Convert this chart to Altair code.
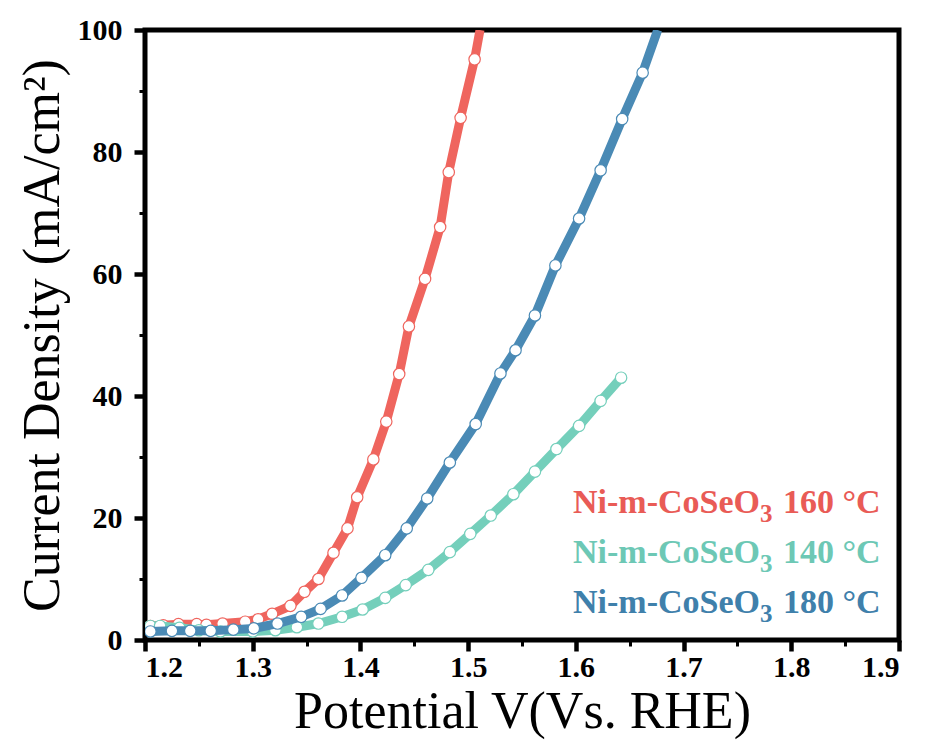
import altair as alt
import pandas as pd

# ---- data ----
red_v = [1.205, 1.217, 1.231, 1.248, 1.257, 1.272, 1.293, 1.305, 1.318, 1.335, 1.348, 1.361,
         1.375, 1.388, 1.397, 1.412, 1.424, 1.436, 1.445, 1.460, 1.474, 1.482, 1.493, 1.506]
red_j = [2.3, 2.4, 2.6, 2.6, 2.5, 2.7, 3.0, 3.4, 4.3, 5.6, 7.9, 10.0,
         14.3, 18.3, 23.4, 29.6, 35.8, 43.6, 51.4, 59.2, 67.7, 76.7, 85.6, 95.2]
red_end = (1.511, 100.0)

green_v = [1.205, 1.214, 1.232, 1.250, 1.270, 1.300, 1.321, 1.341, 1.361, 1.383, 1.402, 1.423,
           1.442, 1.463, 1.483, 1.502, 1.521, 1.542, 1.562, 1.582, 1.603, 1.623, 1.642]
green_j = [2.3, 2.3, 2.0, 1.6, 1.4, 1.4, 1.6, 2.1, 2.7, 3.8, 5.0, 6.9,
           9.0, 11.5, 14.4, 17.4, 20.4, 23.9, 27.6, 31.3, 35.1, 39.2, 43.0]

blue_v = [1.205, 1.225, 1.242, 1.261, 1.282, 1.301, 1.323, 1.345, 1.363, 1.383, 1.401, 1.423,
          1.443, 1.462, 1.483, 1.507, 1.530, 1.544, 1.562, 1.581, 1.603, 1.623, 1.643, 1.662]
blue_j = [1.4, 1.5, 1.5, 1.5, 1.7, 1.9, 2.7, 3.8, 5.1, 7.3, 10.2, 13.9,
          18.3, 23.2, 29.1, 35.4, 43.7, 47.5, 53.2, 61.4, 69.1, 77.0, 85.4, 93.0]
blue_end = (1.676, 100.0)

label_main = ["Ni-m-CoSeO", "Ni-m-CoSeO", "Ni-m-CoSeO"]
label_sub = ["3", "3", "3"]
label_temp = ["160 \u00b0C", "140 \u00b0C", "180 \u00b0C"]
line_colors = ["#EF655E", "#74CFBB", "#4A8AB5"]
label_colors = ["#E95B56", "#6DC8B5", "#3F80AB"]

x_major = [1.2, 1.3, 1.4, 1.5, 1.6, 1.7, 1.8, 1.9]
x_minor = [1.25, 1.35, 1.45, 1.55, 1.65, 1.75, 1.85]
y_major = [0, 20, 40, 60, 80, 100]
y_minor = [10, 30, 50, 70, 90]

FONT = "Liberation Serif"

x_scale = alt.Scale(domain=[1.2, 1.9], nice=False, zero=False)
y_scale = alt.Scale(domain=[0, 100], nice=False)


def frame(v, j, end=None):
    df = pd.DataFrame({"v": v, "j": j})
    if end is not None:
        df_line = pd.concat([df, pd.DataFrame({"v": [end[0]], "j": [end[1]]})], ignore_index=True)
    else:
        df_line = df
    return df, df_line


def layers(v, j, end, color):
    pts, ln = frame(v, j, end)
    line = alt.Chart(ln).mark_line(color=color, strokeWidth=9, clip=True).encode(
        x=alt.X("v:Q", scale=x_scale, axis=None),
        y=alt.Y("j:Q", scale=y_scale, axis=None),
    )
    dots = alt.Chart(pts).mark_point(
        shape="circle", fill="white", fillOpacity=1, stroke=color, strokeWidth=1.2,
        size=130, opacity=1, clip=True
    ).encode(
        x=alt.X("v:Q", scale=x_scale, axis=None),
        y=alt.Y("j:Q", scale=y_scale, axis=None),
    )
    return [line, dots]


axis_common = dict(
    domain=False, grid=False, tickColor="black", labelColor="black",
    labelFont=FONT, labelFontWeight="bold", labelFontSize=30,
    titleFont=FONT, titleFontWeight="normal", titleColor="black", titleFontSize=52,
)

base_df = pd.DataFrame({"v": red_v, "j": red_j})
major_axes = alt.Chart(base_df).mark_point(opacity=0).encode(
    x=alt.X("v:Q", scale=x_scale, axis=alt.Axis(
        orient="bottom", values=x_major, format=".1f", tickSize=11, tickWidth=4.5,
        labelPadding=1, title="Potential V(Vs. RHE)", titlePadding=4,
        **axis_common)),
    y=alt.Y("j:Q", scale=y_scale, axis=alt.Axis(
        orient="left", values=y_major, format="d", tickSize=11, tickWidth=4.5,
        labelPadding=12, title="Current Density (mA/cm\u00b2)", titlePadding=8,
        **axis_common)),
)
minor_axes = alt.Chart(base_df).mark_point(opacity=0).encode(
    x=alt.X("v:Q", scale=x_scale, axis=alt.Axis(
        orient="bottom", values=x_minor, labels=False, tickSize=6, tickWidth=3,
        domain=False, grid=False, tickColor="black", title=None)),
    y=alt.Y("j:Q", scale=y_scale, axis=alt.Axis(
        orient="left", values=y_minor, labels=False, tickSize=6, tickWidth=3,
        domain=False, grid=False, tickColor="black", title=None)),
)

legend_y = [483, 533, 583]
legend_layers = []
for main, sub, temp, col, yy in zip(label_main, label_sub, label_temp, label_colors, legend_y):
    legend_layers.append(
        alt.Chart(pd.DataFrame({"t": [main]})).mark_text(
            align="left", baseline="alphabetic", font=FONT, fontWeight="bold",
            fontSize=34, color=col
        ).encode(x=alt.value(428), y=alt.value(yy), text="t:N")
    )
    legend_layers.append(
        alt.Chart(pd.DataFrame({"t": [sub]})).mark_text(
            align="left", baseline="alphabetic", font=FONT, fontWeight="bold",
            fontSize=25, color=col
        ).encode(x=alt.value(615), y=alt.value(yy + 9), text="t:N")
    )
    legend_layers.append(
        alt.Chart(pd.DataFrame({"t": [temp]})).mark_text(
            align="left", baseline="alphabetic", font=FONT, fontWeight="bold",
            fontSize=34, color=col
        ).encode(x=alt.value(638), y=alt.value(yy), text="t:N")
    )

all_layers = [major_axes, minor_axes]
all_layers += layers(red_v, red_j, red_end, line_colors[0])
all_layers += layers(green_v, green_j, None, line_colors[1])
all_layers += layers(blue_v, blue_j, blue_end, line_colors[2])
all_layers += legend_layers

chart = alt.layer(*all_layers).resolve_axis(x="independent", y="independent").properties(
    width=754, height=610,
    background="white",
    autosize=alt.AutoSizeParams(type="none"),
    padding={"left": 137, "top": 22, "right": 10, "bottom": 100},
).configure_view(stroke="black", strokeWidth=5)

chart.save("out.html", embed_options={"renderer": "svg", "actions": False})
